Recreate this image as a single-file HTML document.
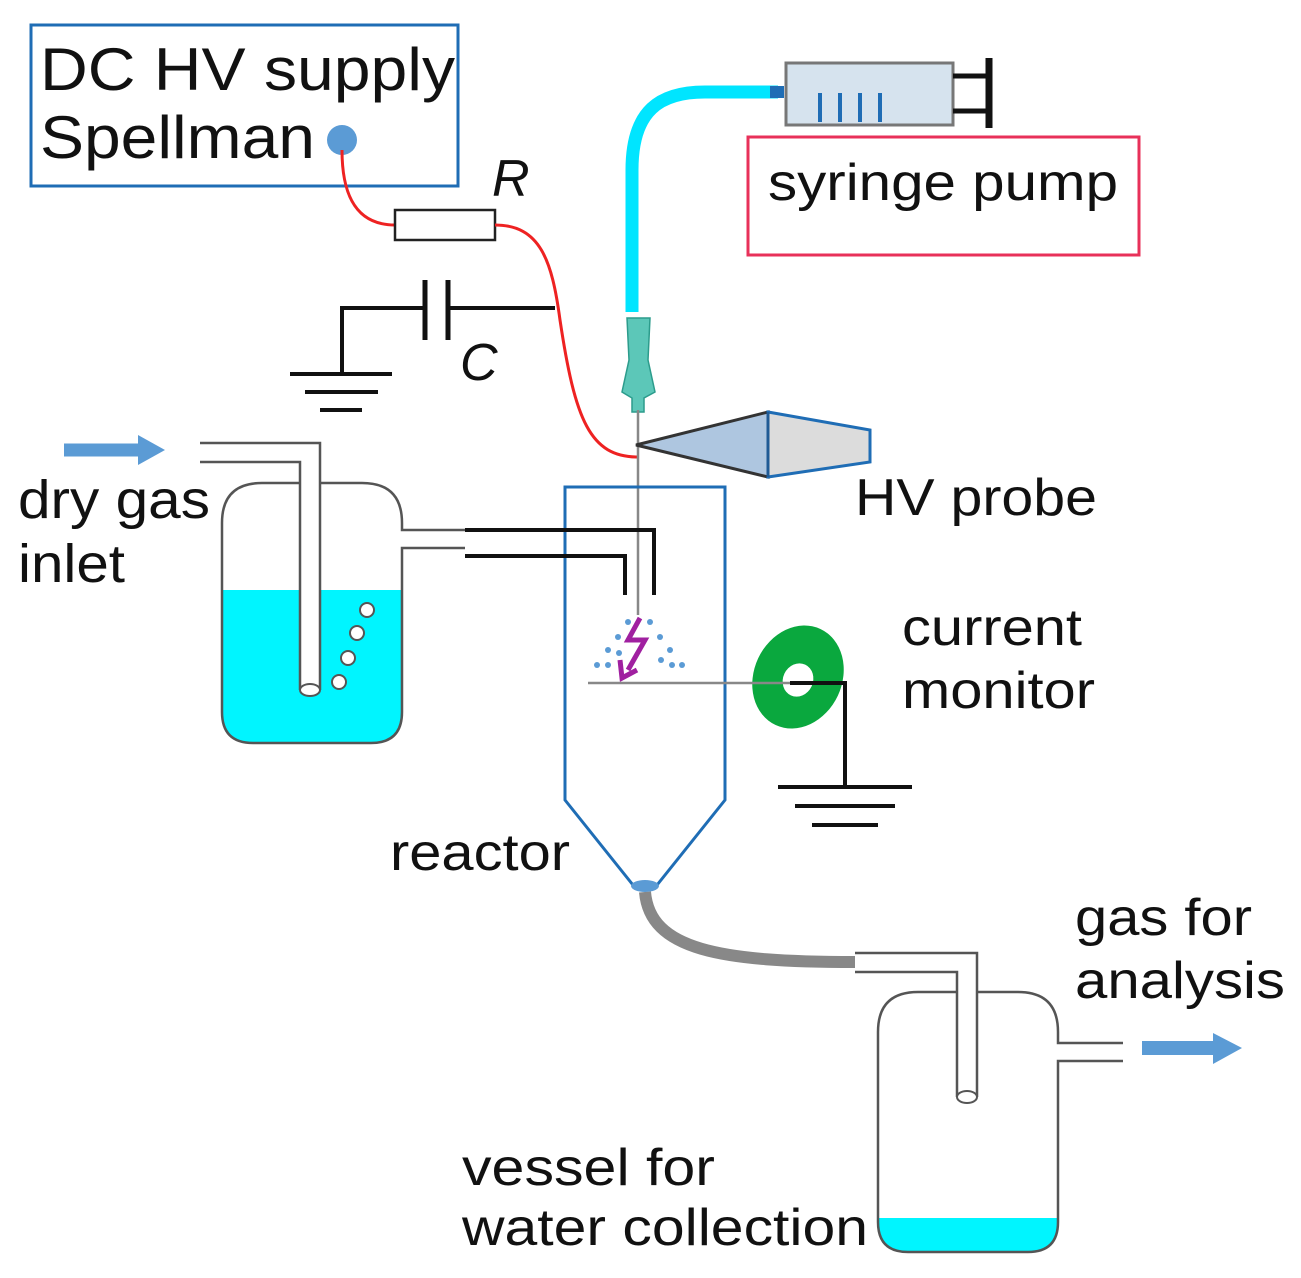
<!DOCTYPE html>
<html><head><meta charset="utf-8"><style>
html,body{margin:0;padding:0;background:#fff}
svg{display:block}
text{font-family:"Liberation Sans",sans-serif;fill:#111}
</style></head><body>
<svg width="1301" height="1278" viewBox="0 0 1301 1278" xmlns="http://www.w3.org/2000/svg">
<!-- DC HV supply -->
<rect x="31" y="25" width="427" height="161" fill="none" stroke="#1f6db5" stroke-width="3"/>
<text x="40" y="90" font-size="60" textLength="415" lengthAdjust="spacingAndGlyphs">DC HV supply</text>
<text x="40" y="158" font-size="60" textLength="275" lengthAdjust="spacingAndGlyphs">Spellman</text>
<circle cx="342" cy="140" r="15" fill="#5b9bd5"/>
<!-- red wire -->
<path d="M342,150 C342,185 350,225 395,225" fill="none" stroke="#ee2222" stroke-width="3"/>
<rect x="395" y="210" width="100" height="30" fill="#fff" stroke="#222" stroke-width="2.5"/>
<path d="M495,225 C540,225 552,260 560,320 C575,420 590,457 638,457" fill="none" stroke="#ee2222" stroke-width="3"/>
<text x="492" y="196" font-size="52" font-style="italic">R</text>
<!-- capacitor -->
<path d="M555,308 H448 M425,308 H342 V372" fill="none" stroke="#111" stroke-width="4"/>
<path d="M448,280 V340 M425,280 V340" stroke="#111" stroke-width="5"/>
<path d="M290,374 H392 M305,392 H378 M320,410 H362" stroke="#111" stroke-width="4"/>
<text x="460" y="380" font-size="52" font-style="italic">C</text>
<!-- cyan tube -->
<path d="M632,312 V170 C632,110 660,92 705,92 H778" fill="none" stroke="#00e5ff" stroke-width="13"/>
<rect x="770" y="86" width="14" height="12" fill="#1f6db5"/>
<!-- syringe -->
<rect x="786" y="63" width="167" height="62" fill="#d6e3ee" stroke="#777" stroke-width="3"/>
<path d="M820,93 V122 M840,93 V122 M860,93 V122 M880,93 V122" stroke="#1f6db5" stroke-width="4"/>
<path d="M953,76 H988 M953,111 H988" stroke="#111" stroke-width="5"/>
<path d="M989,58 V128" stroke="#111" stroke-width="7"/>
<rect x="748" y="137" width="391" height="118" fill="none" stroke="#e8315a" stroke-width="3"/>
<text x="768" y="200" font-size="52" textLength="350" lengthAdjust="spacingAndGlyphs">syringe pump</text>
<!-- needle hub -->
<path d="M627,318 H650 L648,360 L655,392 L644,398 L644,412 H632 L632,398 L622,392 L629,360 Z" fill="#5cc7b8" stroke="#2c9c8c" stroke-width="1.5"/>
<path d="M638,410 V615" stroke="#888" stroke-width="2.5"/>
<!-- HV probe -->
<polygon points="636,445 768,412 768,477" fill="#aec6e0" stroke="#333" stroke-width="3"/>
<polygon points="768,412 870,430 870,462 768,477" fill="#dcdcdc" stroke="#1f6db5" stroke-width="3"/>
<path d="M768,412 V477" stroke="#1f5a95" stroke-width="3"/>
<text x="855" y="515" font-size="52" textLength="242" lengthAdjust="spacingAndGlyphs">HV probe</text>
<!-- reactor -->
<path d="M565,487 H725 V800 L657,885 H633 L565,800 Z" fill="none" stroke="#1f6db5" stroke-width="3"/>
<ellipse cx="645" cy="886" rx="14" ry="6" fill="#5b9bd5"/>
<text x="390" y="870" font-size="52" textLength="180" lengthAdjust="spacingAndGlyphs">reactor</text>
<!-- black tubes -->
<path d="M465,530 H654 V595 M465,556 H625 V595" fill="none" stroke="#111" stroke-width="4"/>
<!-- spray -->
<g fill="#5b9bd5">
<circle cx="628" cy="622" r="3"/><circle cx="650" cy="622" r="3"/>
<circle cx="618" cy="637" r="3"/><circle cx="660" cy="637" r="3"/>
<circle cx="608" cy="650" r="3"/><circle cx="670" cy="650" r="3"/>
<circle cx="619" cy="653" r="3"/><circle cx="661" cy="660" r="3"/>
<circle cx="597" cy="665" r="3"/><circle cx="608" cy="665" r="3"/><circle cx="672" cy="665" r="3"/><circle cx="682" cy="665" r="3"/>
</g>
<path d="M640,618 L628,640 L645,640 L628,670 M620,660 L622,678 L637,670" fill="none" stroke="#a020a0" stroke-width="5"/>
<!-- current monitor -->
<ellipse cx="798" cy="677" rx="44" ry="53" transform="rotate(25 798 677)" fill="#0aa83e"/>
<ellipse cx="798" cy="680" rx="15" ry="17" transform="rotate(25 798 680)" fill="#fff"/>
<path d="M588,683 H845" stroke="#888" stroke-width="2.5"/>
<path d="M790,683 H845 V785" fill="none" stroke="#111" stroke-width="4"/>
<path d="M778,787 H912 M795,806 H895 M812,825 H878" stroke="#111" stroke-width="4"/>
<text x="902" y="645" font-size="52" textLength="180" lengthAdjust="spacingAndGlyphs">current</text>
<text x="902" y="708" font-size="52" textLength="193" lengthAdjust="spacingAndGlyphs">monitor</text>
<!-- bubbler 1 -->
<path d="M64,450 H140" stroke="#5b9bd5" stroke-width="13"/>
<polygon points="138,435 165,450 138,465" fill="#5b9bd5"/>
<text x="18" y="518" font-size="54" textLength="192" lengthAdjust="spacingAndGlyphs">dry gas</text>
<text x="18" y="582" font-size="54" textLength="107" lengthAdjust="spacingAndGlyphs">inlet</text>
<path d="M222,590 H402 V712 Q402,743 371,743 H253 Q222,743 222,712 Z" fill="#00f5ff"/>
<path d="M300,483 H262 Q222,483 222,523 V712 Q222,743 253,743 H371 Q402,743 402,712 V548 H465 M465,530 H402 V523 Q402,483 362,483 H320" fill="none" stroke="#555" stroke-width="2.5"/>
<rect x="300" y="462" width="20" height="228" fill="#fff"/>
<path d="M200,443 H320 V690 M200,462 H300 V690" fill="none" stroke="#555" stroke-width="2.5"/>
<ellipse cx="310" cy="690" rx="10" ry="6" fill="#fff" stroke="#555" stroke-width="2"/>
<g fill="#fff" stroke="#555" stroke-width="2">
<circle cx="367" cy="610" r="7"/><circle cx="357" cy="633" r="7"/><circle cx="348" cy="658" r="7"/><circle cx="339" cy="682" r="7"/>
</g>
<!-- gray tube -->
<path d="M645,892 C650,950 720,962 855,962" fill="none" stroke="#888" stroke-width="12"/>
<!-- vessel 2 -->
<path d="M878,1218 H1058 V1222 Q1058,1252 1028,1252 H908 Q878,1252 878,1222 Z" fill="#00f5ff"/>
<path d="M957,992 H918 Q878,992 878,1032 V1222 Q878,1252 908,1252 H1028 Q1058,1252 1058,1222 V1061 H1123 M1123,1043 H1058 V1032 Q1058,992 1018,992 H977" fill="none" stroke="#555" stroke-width="2.5"/>
<path d="M855,953 H977 V1097 M855,972 H957 V1097" fill="none" stroke="#555" stroke-width="2.5"/>
<ellipse cx="967" cy="1097" rx="10" ry="6" fill="#fff" stroke="#555" stroke-width="2"/>
<path d="M1142,1048 H1215" stroke="#5b9bd5" stroke-width="14"/>
<polygon points="1213,1033 1242,1048 1213,1064" fill="#5b9bd5"/>
<text x="1075" y="935" font-size="52" textLength="177" lengthAdjust="spacingAndGlyphs">gas for</text>
<text x="1075" y="998" font-size="52" textLength="210" lengthAdjust="spacingAndGlyphs">analysis</text>
<text x="462" y="1185" font-size="52" textLength="253" lengthAdjust="spacingAndGlyphs">vessel for</text>
<text x="462" y="1245" font-size="52" textLength="406" lengthAdjust="spacingAndGlyphs">water collection</text>
</svg>
</body></html>
